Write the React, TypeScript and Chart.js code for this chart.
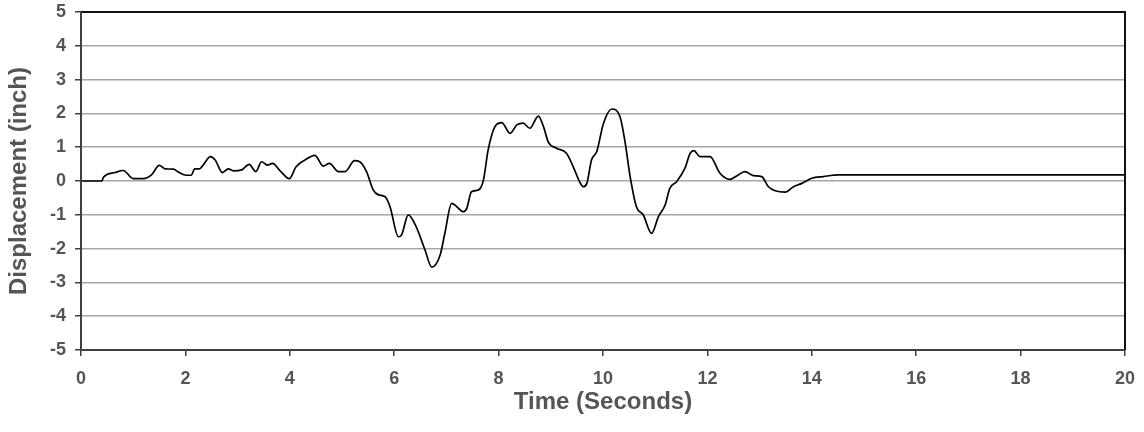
import React, { useEffect, useRef } from "react";
import { Chart, registerables } from "chart.js";

Chart.register(...registerables);

const times: number[] = [
  0, 0.4, 0.43, 0.65, 0.81, 1.0, 1.19, 1.35, 1.5, 1.61, 1.77, 1.86, 2.02, 2.11, 2.18, 2.27, 2.34, 2.48, 2.57,
  2.71, 2.82, 2.92, 3.08, 3.22, 3.35, 3.46, 3.57, 3.67, 3.81, 3.99, 4.12, 4.29, 4.48, 4.64, 4.76, 4.93, 5.06,
  5.24, 5.34, 5.47, 5.6, 5.7, 5.82, 5.92, 6.08, 6.14, 6.27, 6.42, 6.59, 6.72, 6.88, 6.97, 7.1, 7.2, 7.32, 7.39,
  7.48, 7.61, 7.71, 7.8, 7.93, 8.06, 8.22, 8.35, 8.47, 8.6, 8.76, 8.86, 8.95, 9.11, 9.3, 9.43, 9.55, 9.62, 9.69,
  9.78, 9.88, 10.01, 10.17, 10.33, 10.42, 10.52, 10.64, 10.77, 10.93, 11.06, 11.19, 11.28, 11.41, 11.57, 11.67,
  11.74, 11.86, 12.05, 12.24, 12.43, 12.56, 12.72, 12.88, 13.04, 13.17, 13.3, 13.49, 13.65, 13.81, 14.0, 14.22,
  14.51, 20,
];

const displacement: number[] = [
  0, 0, 0.11, 0.25, 0.31, 0.07, 0.07, 0.18, 0.46, 0.36, 0.35, 0.27, 0.17, 0.17, 0.36, 0.36, 0.47, 0.72, 0.62,
  0.25, 0.36, 0.3, 0.33, 0.49, 0.28, 0.57, 0.47, 0.52, 0.31, 0.07, 0.42, 0.62, 0.76, 0.44, 0.52, 0.28, 0.28,
  0.6, 0.57, 0.28, -0.27, -0.41, -0.46, -0.76, -1.65, -1.6, -1.0, -1.35, -2.04, -2.55, -2.19, -1.55, -0.66, -0.76, -0.91, -0.81,
  -0.32, -0.27, 0.03, 0.92, 1.61, 1.73, 1.41, 1.66, 1.71, 1.56, 1.92, 1.61, 1.16, 0.97, 0.82, 0.42, -0.02, -0.17, -0.07,
  0.62, 0.87, 1.71, 2.13, 1.88, 1.18, 0.13, -0.76, -1.0, -1.55, -1.06, -0.71, -0.22, -0.02, 0.38, 0.82,
  0.9, 0.72, 0.72, 0.23, 0.05, 0.15, 0.28, 0.16, 0.13, -0.17, -0.29, -0.33, -0.17, -0.07, 0.08, 0.13,
  0.18, 0.18,
];

const xTitle = "Time (Seconds)";
const yTitle = "Displacement (inch)";

const TEXT = "#555555";
const AXIS = "#404040";
const GRID = "#a6a6a6";

const frame = {
  id: "frame",
  afterDatasetsDraw(chart: any) {
    const { ctx, chartArea: a } = chart;
    ctx.save();
    ctx.strokeStyle = "#111111";
    ctx.lineWidth = 2;
    ctx.beginPath();
    ctx.moveTo(a.left, a.top);
    ctx.lineTo(a.right, a.top);
    ctx.lineTo(a.right, a.bottom);
    ctx.stroke();
    ctx.strokeStyle = AXIS;
    ctx.beginPath();
    ctx.moveTo(a.left, a.top);
    ctx.lineTo(a.left, a.bottom);
    ctx.lineTo(a.right, a.bottom);
    ctx.stroke();
    ctx.restore();
  },
};

export default function App() {
  const ref = useRef<HTMLCanvasElement>(null);
  useEffect(() => {
    if (!ref.current) return;
    const data = times.map((t, i) => ({ x: t, y: displacement[i] }));
    const chart = new Chart(ref.current, {
      type: "line",
      data: {
        datasets: [
          {
            data,
            borderColor: "#000000",
            borderWidth: 1.7,
            pointRadius: 0,
            tension: 0.3,
            cubicInterpolationMode: "monotone",
            fill: false,
          },
        ],
      },
      options: {
        animation: false,
        responsive: true,
        maintainAspectRatio: false,
        layout: { padding: { top: 12, right: 19, left: 0, bottom: 0 } },
        plugins: { legend: { display: false }, tooltip: { enabled: false } },
        scales: {
          x: {
            type: "linear",
            min: 0,
            max: 20,
            afterFit: (s: any) => {
              s.height = 82;
              s.paddingLeft = 0;
              s.paddingRight = 0;
            },
            ticks: {
              stepSize: 2,
              color: TEXT,
              font: { family: "Liberation Sans, Arial", size: 18, weight: "bold" },
              padding: 12,
              maxRotation: 0,
            },
            grid: { drawOnChartArea: false, drawTicks: true, tickLength: 6, tickColor: AXIS, lineWidth: 1.5 },
            border: { display: true, color: AXIS, width: 2 },
            title: {
              display: true,
              text: xTitle,
              color: TEXT,
              font: { family: "Liberation Sans, Arial", size: 24, weight: "bold" },
              padding: { top: 0, bottom: 15 },
            },
          },
          y: {
            min: -5,
            max: 5,
            afterFit: (s: any) => {
              s.width = 81;
              s.paddingTop = 0;
              s.paddingBottom = 0;
            },
            ticks: {
              stepSize: 1,
              color: TEXT,
              font: { family: "Liberation Sans, Arial", size: 18, weight: "bold" },
              padding: 9,
            },
            grid: { color: GRID, lineWidth: 1.5, tickLength: 6, tickColor: AXIS },
            border: { display: true, color: AXIS, width: 2 },
            title: {
              display: true,
              text: yTitle,
              color: TEXT,
              font: { family: "Liberation Sans, Arial", size: 24, weight: "bold" },
              padding: { top: 5, bottom: 0 },
            },
          },
        },
      },
      plugins: [frame],
    });
    return () => chart.destroy();
  }, []);
  return (
    <div style={{ position: "absolute", left: 0, top: 0, width: 1144, height: 432, background: "#fff" }}>
      <canvas ref={ref} />
    </div>
  );
}
